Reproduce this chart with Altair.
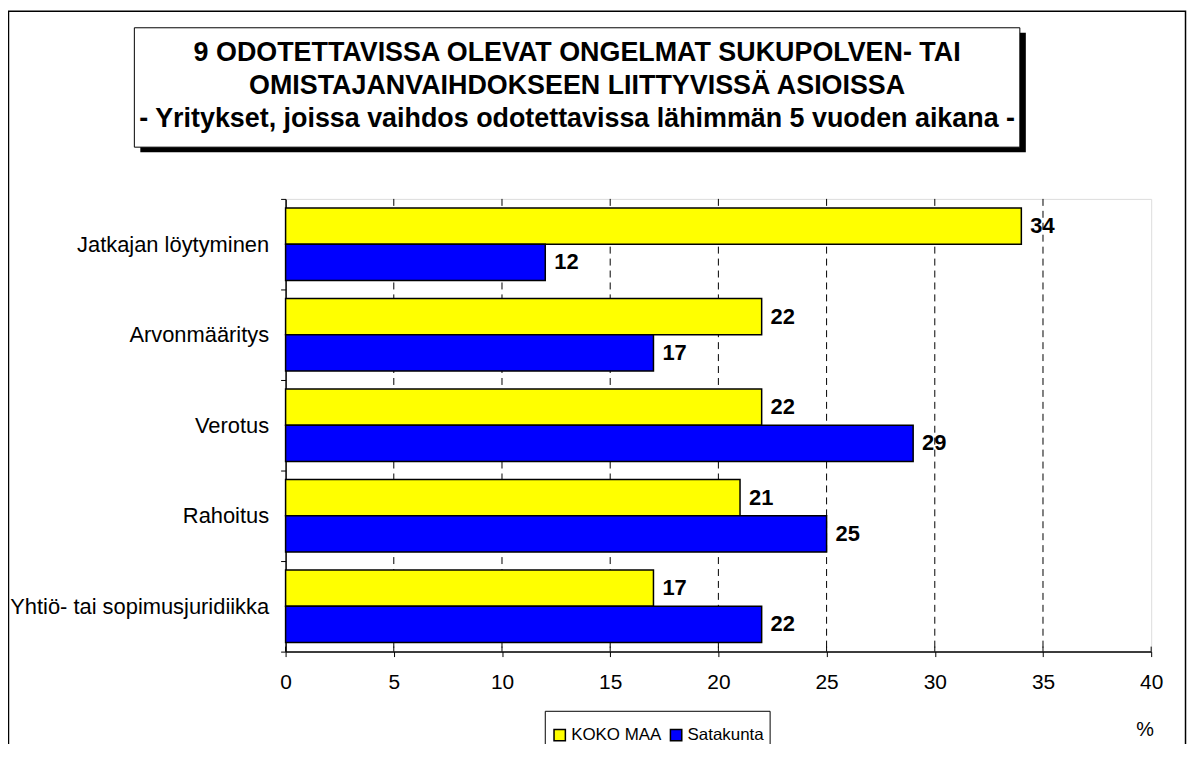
import altair as alt
import pandas as pd

# ---- data ----
categories = ["Jatkajan löytyminen", "Arvonmääritys", "Verotus", "Rahoitus",
              "Yhtiö- tai sopimusjuridiikka"]
koko_maa = [34, 22, 22, 21, 17]
satakunta = [12, 17, 29, 25, 22]
series = ["KOKO MAA", "Satakunta"]
colors = ["#FFFF00", "#0000FF"]
x_ticks = [0, 5, 10, 15, 20, 25, 30, 35, 40]
grid_values = [5, 10, 15, 20, 25, 30, 35]
title_lines = [
    "9 ODOTETTAVISSA OLEVAT ONGELMAT SUKUPOLVEN- TAI",
    "OMISTAJANVAIHDOKSEEN LIITTYVISSÄ ASIOISSA",
    "- Yritykset, joissa vaihdos odotettavissa lähimmän 5 vuoden aikana -",
]
unit_label = "%"

rows = []
for c, a, b in zip(categories, koko_maa, satakunta):
    rows.append({"cat": c, "series": series[0], "value": a})
    rows.append({"cat": c, "series": series[1], "value": b})
df = pd.DataFrame(rows)

W, H = 870, 455
FONT = "Liberation Sans"
PAD_L, PAD_T = 279, 190
TOTAL_W, TOTAL_H = 1186, 736

xscale = alt.Scale(domain=[0, 40], nice=False, zero=True)
yscale = alt.Scale(domain=categories, paddingInner=0, paddingOuter=0)
yoffscale = alt.Scale(domain=series, paddingInner=0, paddingOuter=0.25)

one = pd.DataFrame({"k": [0]})

# outer chart border (no fill, so axes stay visible)
outer = alt.Chart(one).mark_rect(fill="white", fillOpacity=0, stroke="black",
                                 strokeWidth=1.5).encode(
    x=alt.value(-278.5), x2=alt.value(904.5), y=alt.value(-188.5), y2=alt.value(580)
)

# title box with shadow
shadow = alt.Chart(one).mark_rect(fill="black").encode(
    x=alt.value(-146), x2=alt.value(744), y=alt.value(-167), y2=alt.value(-47)
)
tbox = alt.Chart(one).mark_rect(fill="white", stroke="black", strokeWidth=1).encode(
    x=alt.value(-152), x2=alt.value(738), y=alt.value(-172), y2=alt.value(-52)
)
title_layers = []
for line, yy in zip(title_lines, [-147, -113, -80]):
    title_layers.append(
        alt.Chart(one).mark_text(font=FONT, fontSize=27, fontWeight="bold", color="black",
                                 align="center", baseline="middle", text=line)
        .encode(x=alt.value(293), y=alt.value(yy))
    )

# legend frame
legend_frame = alt.Chart(one).mark_rect(fill="white", stroke="black", strokeWidth=1).encode(
    x=alt.value(261), x2=alt.value(487), y=alt.value(515), y2=alt.value(580)
)

grid = alt.Chart(pd.DataFrame({"v": grid_values})).mark_rule(
    color="black", strokeWidth=1, strokeDash=[7, 5]
).encode(x=alt.X("v:Q", scale=xscale))

bars = alt.Chart(df).mark_bar(stroke="black", strokeWidth=1.5).encode(
    x=alt.X("value:Q", scale=xscale,
            axis=alt.Axis(values=x_ticks, title=None, grid=False, tickSize=5,
                          tickColor="black", domainColor="black", domainWidth=1.5,
                          tickWidth=1, labelFont=FONT, labelFontSize=21,
                          labelColor="black", labelPadding=15, labelFlush=False)),
    y=alt.Y("cat:N", scale=yscale, sort=categories,
            axis=alt.Axis(title=None, tickBand="extent", tickSize=5, tickColor="black",
                          domainColor="black", domainWidth=1.5, labelFont=FONT,
                          labelFontSize=22, labelColor="black", labelPadding=12,
                          labelLimit=400)),
    yOffset=alt.YOffset("series:N", scale=yoffscale, sort=series),
    fill=alt.Fill("series:N", scale=alt.Scale(domain=series, range=colors),
                  legend=alt.Legend(title=None, orient="none", legendX=259, legendY=522,
                                    direction="horizontal", symbolType="square",
                                    symbolSize=130, symbolStrokeColor="black",
                                    symbolStrokeWidth=1.5, labelFont=FONT,
                                    labelFontSize=17, labelColor="black",
                                    columnPadding=5, labelOffset=3,
                                    padding=8)),
)

labels = alt.Chart(df).mark_text(
    align="left", baseline="middle", dx=9, font=FONT, fontSize=22,
    fontWeight="bold", color="black"
).encode(
    x=alt.X("value:Q", scale=xscale),
    y=alt.Y("cat:N", scale=yscale, sort=categories),
    yOffset=alt.YOffset("series:N", scale=yoffscale, sort=series),
    text=alt.Text("value:Q"),
)

inner_ticks = alt.Chart(pd.DataFrame({"t": x_ticks})).mark_rule(
    color="black", strokeWidth=1
).encode(x=alt.X("t:Q", scale=xscale), y=alt.value(H - 5), y2=alt.value(H))

pct = alt.Chart(one).mark_text(font=FONT, fontSize=20, color="black",
                               align="center", baseline="middle", text=unit_label).encode(
    x=alt.value(864), y=alt.value(534)
)

chart = alt.layer(
    outer, shadow, tbox, *title_layers, legend_frame, grid, bars, labels,
    inner_ticks, pct
).properties(
    width=W, height=H,
    autosize=alt.AutoSizeParams(type="none"),
    padding={"left": PAD_L, "top": PAD_T, "right": TOTAL_W - PAD_L - W,
             "bottom": TOTAL_H - PAD_T - H},
).configure_view(stroke="#808080", strokeWidth=1.5).configure(background="white")

chart.save("out.html", embed_options={"renderer": "svg", "actions": False})
